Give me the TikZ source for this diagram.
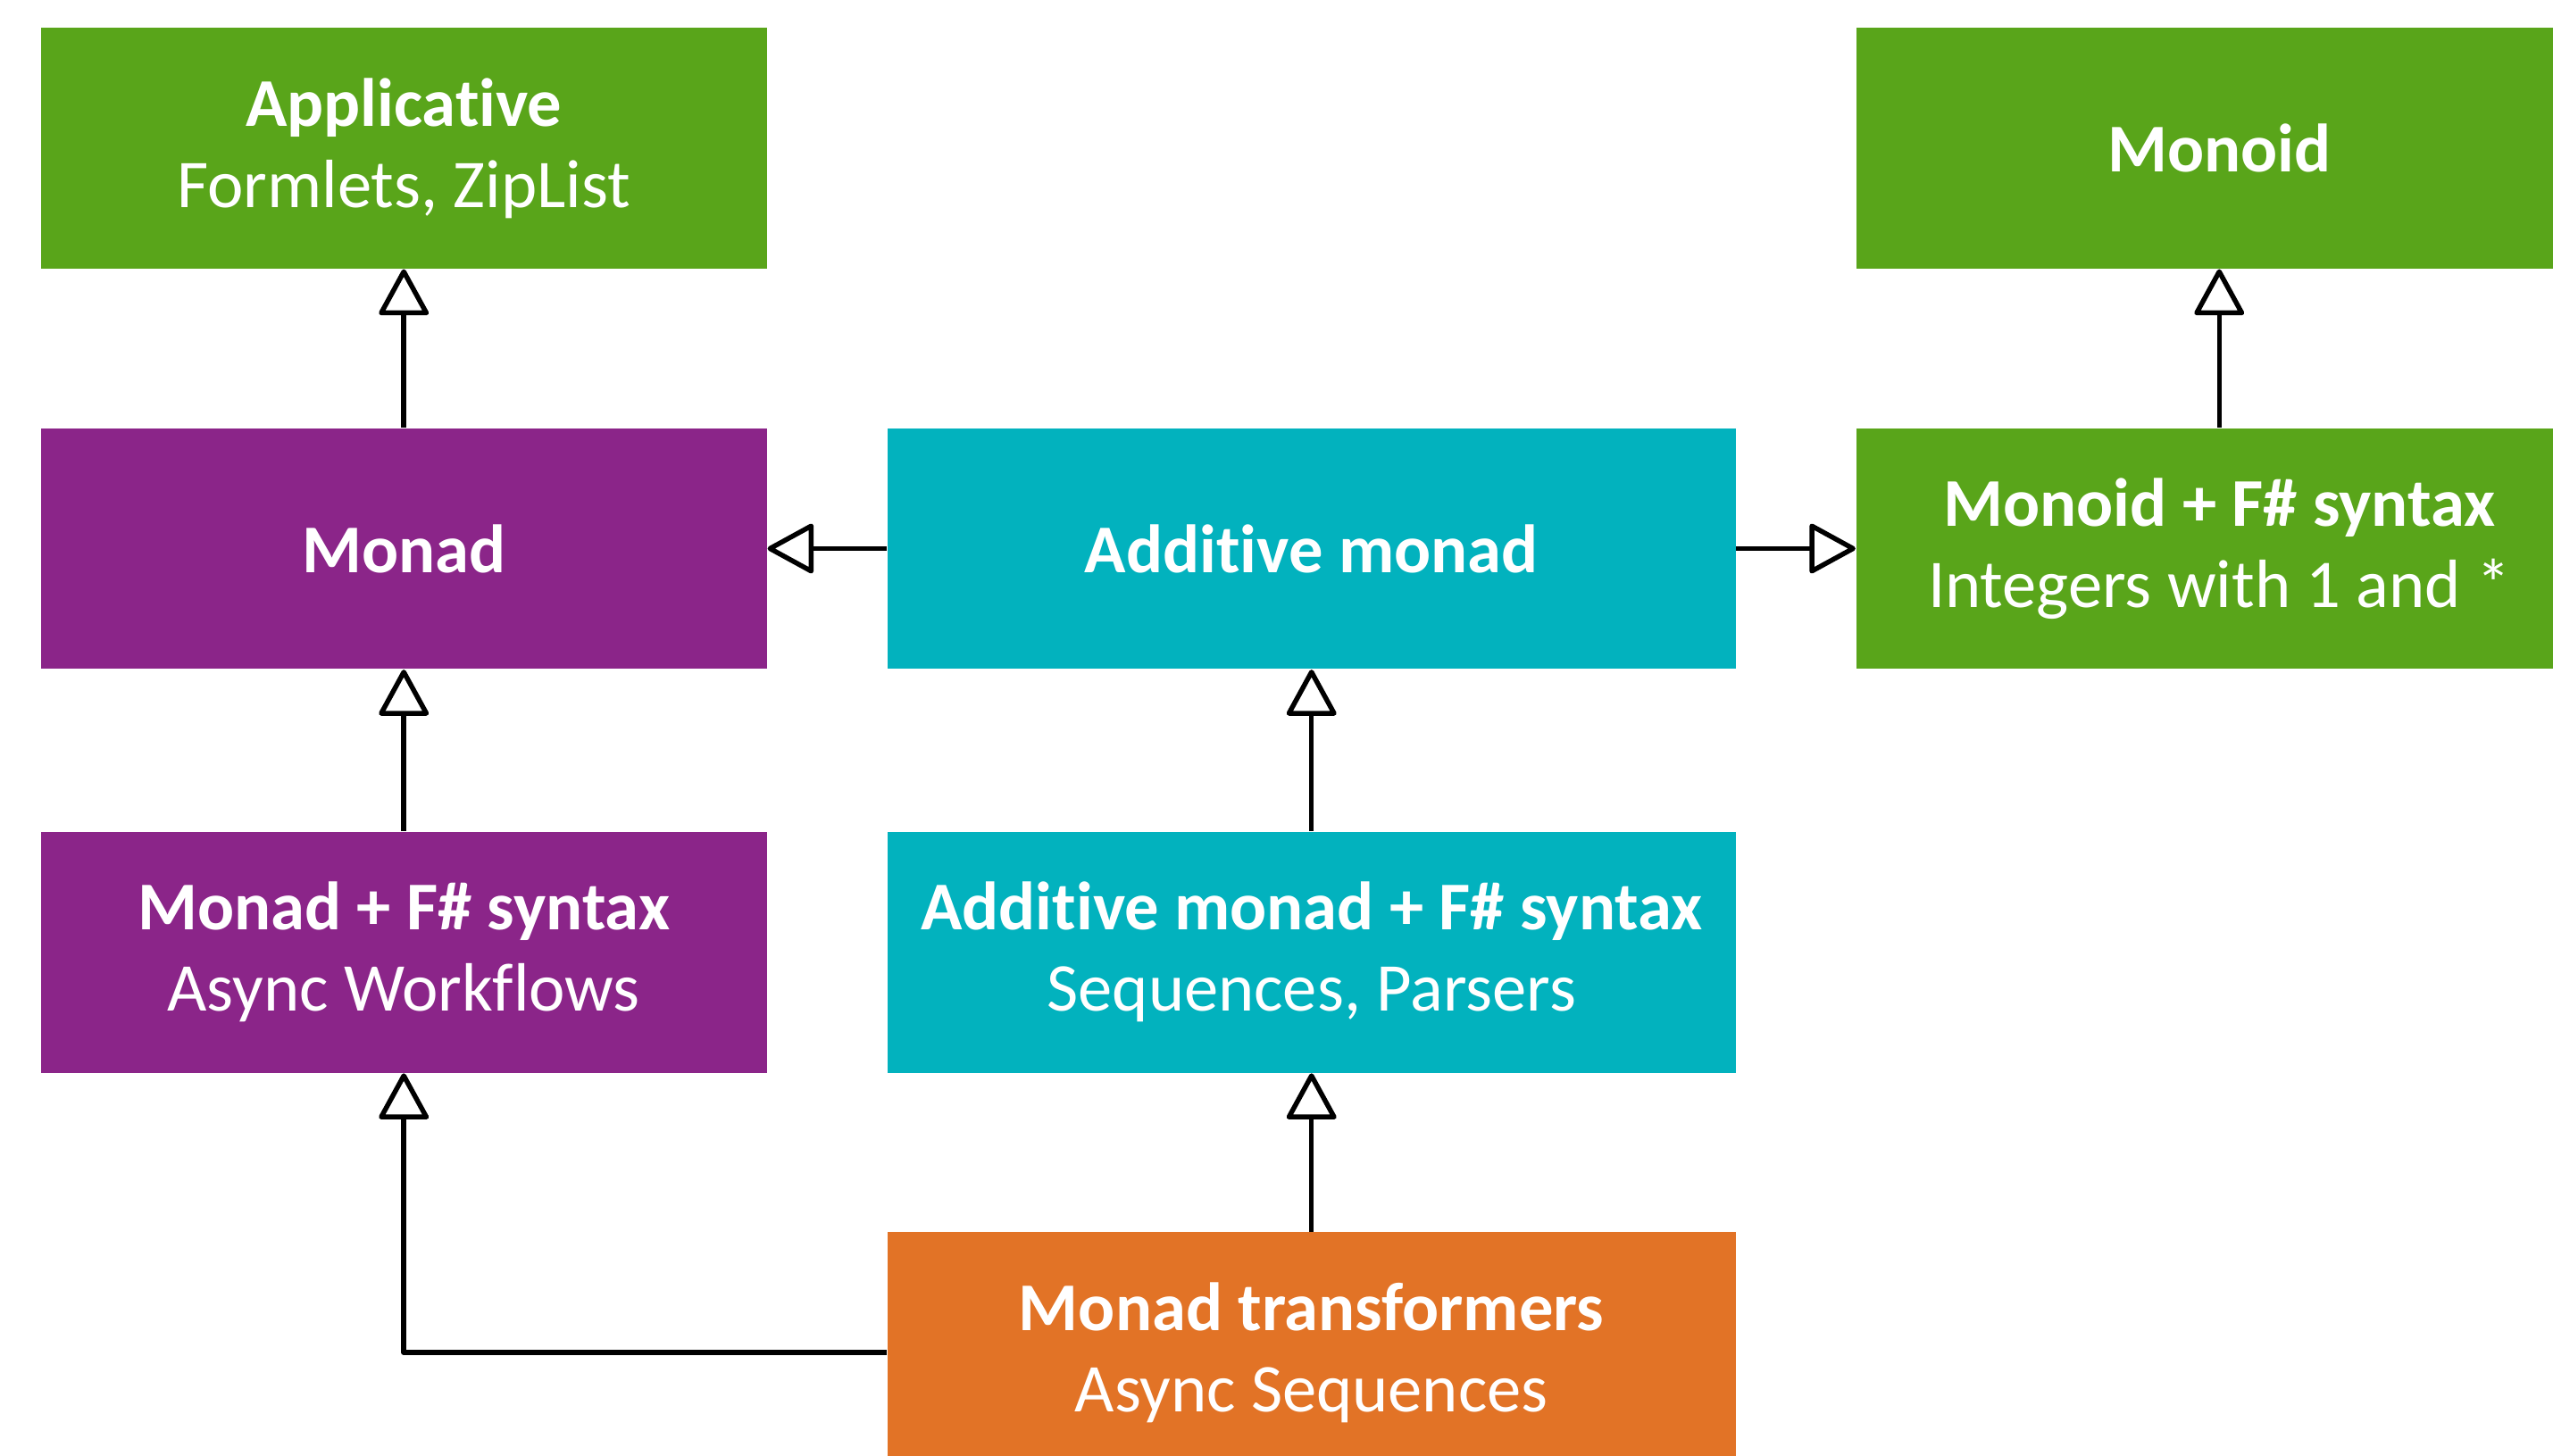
\documentclass[tikz,border=0pt]{standalone}
\usepackage{fontspec}
\setmainfont{Carlito}[Ligatures=NoCommon]
\usetikzlibrary{arrows.meta}
\definecolor{cgreen}{RGB}{89,165,26}
\definecolor{cpurple}{RGB}{139,37,137}
\definecolor{cteal}{RGB}{2,178,190}
\definecolor{corange}{RGB}{226,115,38}
\tikzset{
  box/.style={draw=none, inner sep=0pt, minimum height=74pt, text=white, align=center,
    font=\fontsize{21}{25}\selectfont},
  narrow/.style={box, minimum width=223pt},
  wide/.style={box, minimum width=260.5pt},
  arr/.style={line width=1.5pt, line join=round,
    -{Triangle[fill=white, length=15pt, width=16pt, line join=round]}}
}
\begin{document}
\begin{tikzpicture}[x=0.5pt,y=-0.5pt]
\useasboundingbox (0,0) rectangle (1568,894);
\clip (0,0) rectangle (1568,894);
\node[narrow, fill=cgreen] (app) at (248,91) {\textbf{Applicative}\\Formlets, ZipList};
\node[narrow, fill=cgreen] (monoid) at (1363,91) {\textbf{Monoid}};
\node[narrow, fill=cpurple] (monad) at (248,337) {\textbf{Monad}};
\node[wide, fill=cteal] (add) at (805.5,337) {\textbf{Additive monad}};
\node[narrow, fill=cgreen] (monoidfs) at (1363,337) {\textbf{Monoid + F\# syntax}\\Integers with 1 and *};
\node[narrow, fill=cpurple] (monadfs) at (248,585) {\textbf{Monad + F\# syntax}\\Async Workflows};
\node[wide, fill=cteal] (addfs) at (805.5,585) {\textbf{Additive monad + F\# syntax}\\Sequences, Parsers};
\node[wide, fill=corange] (trans) at (805.5,831) {\textbf{Monad transformers}\\Async Sequences};
\draw[arr] (monad) -- (app);
\draw[arr] (monoidfs) -- (monoid);
\draw[arr] (add) -- (monad);
\draw[arr] (add) -- (monoidfs);
\draw[arr] (monadfs) -- (monad);
\draw[arr] (addfs) -- (add);
\draw[arr] (trans) -- (addfs);
\draw[arr] (trans.west) -| (monadfs.south);
\end{tikzpicture}
\end{document}
